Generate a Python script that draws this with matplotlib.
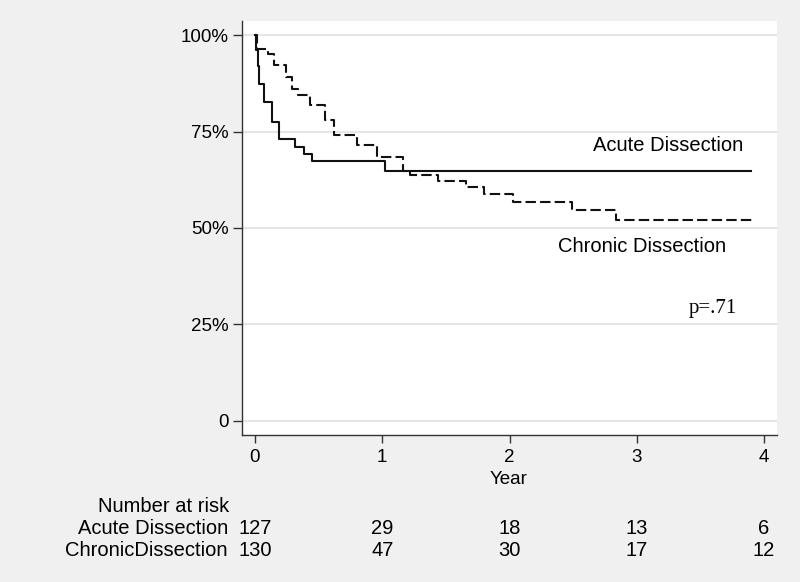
import numpy as np
import matplotlib
matplotlib.use('Agg')
import matplotlib.pyplot as plt
import matplotlib.transforms as mtransforms

plt.rcParams['font.family'] = ['Liberation Sans', 'DejaVu Sans']

# Kaplan-Meier curves (percent surviving)
acute_t = [0, 0.01, 0.02, 0.03, 0.07, 0.135, 0.19, 0.315, 0.385, 0.45, 1.02, 3.9]
acute_s = [100, 96, 92, 87.4, 82.6, 77.5, 73.1, 71.1, 69.2, 67.4, 64.8, 64.8]

chronic_t = [0, 0.018, 0.10, 0.15, 0.24, 0.29, 0.34, 0.43, 0.55, 0.62, 0.80, 0.96,
             1.16, 1.22, 1.44, 1.66, 1.80, 2.03, 2.49, 2.84, 3.92]
chronic_s = [100, 96.3, 95.2, 92.2, 89, 86, 84.4, 81.8, 78, 74, 71.5, 68.3,
             64.8, 63.7, 62.3, 60.7, 58.8, 56.8, 54.7, 52.1, 52.1]

# number at risk table
risk_years = [0, 1, 2, 3, 4]
risk_acute = [127, 29, 18, 13, 6]
risk_chronic = [130, 47, 30, 17, 12]

W, H = 800, 582
fig = plt.figure(figsize=(W/100, H/100), dpi=100)
fig.patch.set_facecolor('#f0f0f0')
ax = fig.add_axes([242/W, 1-435/H, (777-242)/W, (435-21)/H])
ax.set_facecolor('white')

ax.step(acute_t, acute_s, where='post', color='#111111', lw=1.5)
ax.step(chronic_t, chronic_s, where='post', color='#111111', lw=1.5,
        linestyle=(0, (5, 2)))

ax.set_xlim(-0.102, 4.102)
ax.set_ylim(-3.63, 103.63)
ax.set_xticks([0, 1, 2, 3, 4])
ax.set_yticks([0, 25, 50, 75, 100])
ax.set_yticklabels(['0', '25%', '50%', '75%', '100%'])
ax.grid(axis='y', color='#e6e6e6', lw=1.5)
ax.set_axisbelow(True)
for s in ['top', 'right']:
    ax.spines[s].set_visible(False)
for s in ['left', 'bottom']:
    ax.spines[s].set_color('#333333')
    ax.spines[s].set_linewidth(1.0)
ax.tick_params(axis='y', length=6.5, width=1, color='#333333', pad=3, labelsize=13.5)
ax.tick_params(axis='x', length=6, width=1, color='#333333', pad=4, labelsize=13.5)

ax.set_xlabel('Year', fontsize=13.5)
ax.xaxis.set_label_coords(0.499, -0.087)

ax.text(2.656, 71.5, 'Acute Dissection', fontsize=14.5, va='center', ha='left')
ax.text(2.381, 45.1, 'Chronic Dissection', fontsize=14.5, va='center', ha='left')
ax.text(3.41, 28.0, 'p=.71', fontsize=15, va='baseline', ha='left',
        family=['Liberation Serif', 'DejaVu Serif'])

# risk table
fig.text(164/W, 1-506/H, 'Number at risk', fontsize=14.5, ha='center', va='center')
fig.text(228/W, 1-528/H, 'Acute Dissection', fontsize=14.5, ha='right', va='center')
fig.text(228/W, 1-550/H, 'ChronicDissection', fontsize=14.5, ha='right', va='center')
trans = mtransforms.blended_transform_factory(ax.transData, fig.transFigure)
for yr, a, c in zip(risk_years, risk_acute, risk_chronic):
    fig.text(yr, 1-528/H, str(a), fontsize=14.5, ha='center', va='center', transform=trans)
    fig.text(yr, 1-550/H, str(c), fontsize=14.5, ha='center', va='center', transform=trans)

fig.savefig('out.png', dpi=100, facecolor=fig.get_facecolor())
